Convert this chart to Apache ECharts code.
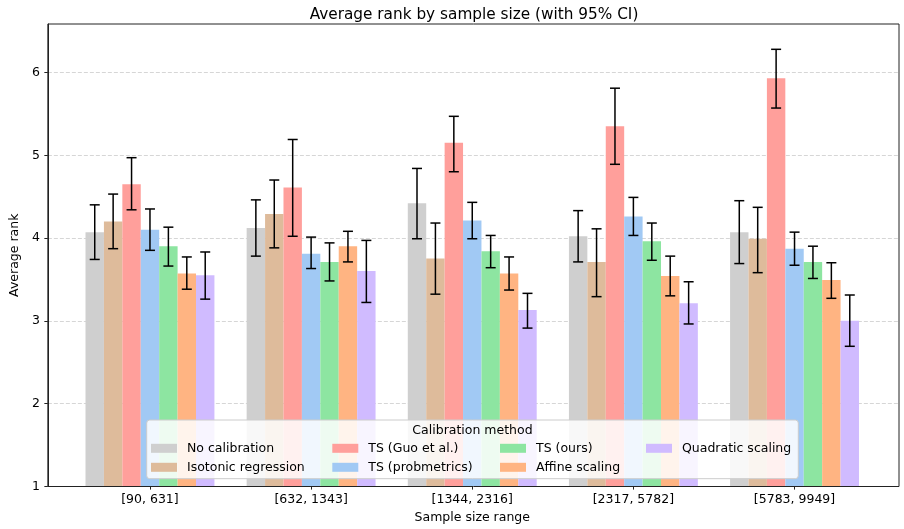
<!DOCTYPE html>
<html>
<head>
<meta charset="utf-8">
<script src="https://cdn.jsdelivr.net/npm/echarts@6/dist/echarts.min.js"></script>
<style>html,body{margin:0;padding:0;background:#fff}#c{width:904px;height:529px}</style>
</head>
<body>
<div id="c"></div>
<script>
const categories = ['[90, 631]', '[632, 1343]', '[1344, 2316]', '[2317, 5782]', '[5783, 9949]'];
const methods = ['No calibration', 'Isotonic regression', 'TS (Guo et al.)', 'TS (probmetrics)', 'TS (ours)', 'Affine scaling', 'Quadratic scaling'];
const colors = ['#cfcfcf', '#debb9b', '#ff9f9b', '#a1c9f4', '#8de5a1', '#ffb482', '#d0bbff'];

const noCalMean = [4.07, 4.12, 4.42, 4.02, 4.07];
const noCalLow  = [3.74, 3.78, 3.99, 3.71, 3.69];
const noCalHigh = [4.40, 4.46, 4.84, 4.33, 4.45];

const isoMean = [4.20, 4.29, 3.75, 3.71, 3.99];
const isoLow  = [3.87, 3.88, 3.32, 3.29, 3.58];
const isoHigh = [4.53, 4.70, 4.18, 4.11, 4.37];

const guoMean = [4.65, 4.61, 5.15, 5.35, 5.93];
const guoLow  = [4.34, 4.02, 4.80, 4.89, 5.57];
const guoHigh = [4.97, 5.19, 5.47, 5.81, 6.28];

const probMean = [4.10, 3.81, 4.21, 4.26, 3.87];
const probLow  = [3.85, 3.63, 3.99, 4.03, 3.67];
const probHigh = [4.35, 4.01, 4.43, 4.49, 4.07];

const oursMean = [3.90, 3.71, 3.84, 3.96, 3.71];
const oursLow  = [3.66, 3.48, 3.64, 3.73, 3.51];
const oursHigh = [4.13, 3.94, 4.03, 4.18, 3.90];

const affMean = [3.57, 3.90, 3.57, 3.54, 3.49];
const affLow  = [3.38, 3.71, 3.37, 3.30, 3.27];
const affHigh = [3.77, 4.08, 3.77, 3.78, 3.70];

const quadMean = [3.55, 3.60, 3.13, 3.21, 3.00];
const quadLow  = [3.26, 3.22, 2.91, 2.96, 2.69];
const quadHigh = [3.83, 3.97, 3.33, 3.47, 3.31];

const yTicks = [1, 2, 3, 4, 5, 6];

const means = [noCalMean, isoMean, guoMean, probMean, oursMean, affMean, quadMean];
const lows = [noCalLow, isoLow, guoLow, probLow, oursLow, affLow, quadLow];
const highs = [noCalHigh, isoHigh, guoHigh, probHigh, oursHigh, affHigh, quadHigh];

const FONT = 'DejaVu Sans';
const FS = 12.5;
const YMIN = 1, YMAX = 6.586;
const nM = methods.length;
const catGapFrac = 0.2;

const chart = echarts.init(document.getElementById('c'), null, {renderer: 'canvas'});

const series = [];
methods.forEach((m, k) => {
  series.push({
    name: m, type: 'bar', xAxisIndex: 1, yAxisIndex: 1,
    data: means[k], barGap: '0%', barCategoryGap: '20%',
    itemStyle: {color: colors[k]}, z: 2, silent: true
  });
});
methods.forEach((m, k) => {
  series.push({
    name: 'err' + k, type: 'custom', xAxisIndex: 1, yAxisIndex: 1, z: 5, silent: true,
    data: categories.map((c, i) => [i, lows[k][i], highs[k][i]]),
    encode: {x: 0, y: [1, 2]},
    renderItem: function (params, api) {
      const band = api.size([1, 0])[0];
      const bw = band * (1 - catGapFrac) / nM;
      const p1 = api.coord([api.value(0), api.value(1)]);
      const p2 = api.coord([api.value(0), api.value(2)]);
      const x = p1[0] + (k - (nM - 1) / 2) * bw;
      const cap = 5;
      const st = {stroke: '#000', lineWidth: 1.5};
      return {
        type: 'group',
        children: [
          {type: 'line', shape: {x1: x, y1: p1[1], x2: x, y2: p2[1]}, style: st},
          {type: 'line', shape: {x1: x - cap, y1: p1[1], x2: x + cap, y2: p1[1]}, style: st},
          {type: 'line', shape: {x1: x - cap, y1: p2[1], x2: x + cap, y2: p2[1]}, style: st}
        ]
      };
    }
  });
});

const legendCols = [[0, 1], [2, 3], [4, 5], [6]];
const legendLefts = [151, 332.3, 500, 646];
const legends = legendCols.map((col, j) => ({
  data: col.map(k => methods[k]),
  orient: 'vertical', left: legendLefts[j], top: 441.3, padding: 0,
  itemWidth: 26, itemHeight: 9, itemGap: 5, icon: 'rect', selectedMode: false, z: 20,
  textStyle: {fontFamily: FONT, fontSize: FS, color: '#000', lineHeight: 14, padding: [0, 0, 0, 5]}
}));

const option = {
  animation: false,
  backgroundColor: '#fff',
  color: colors,
  title: {
    text: 'Average rank by sample size (with 95% CI)', left: 469, textAlign: 'center', top: 3,
    textStyle: {fontFamily: FONT, fontSize: 15.3, fontWeight: 'normal', color: '#000'}
  },
  legend: legends,
  grid: [
    {left: 45, right: 5, top: 24, bottom: 42.5, show: true, borderColor: '#222', borderWidth: 1, backgroundColor: 'transparent', containLabel: false},
    {left: 69.4, right: 28.9, top: 24, bottom: 42.5, containLabel: false}
  ],
  xAxis: [
    {type: 'value', gridIndex: 0, min: 0, max: 1, show: false},
    {type: 'category', gridIndex: 1, data: categories, boundaryGap: true,
     axisLine: {show: false},
     axisTick: {show: true, alignWithLabel: true, length: 3.5, inside: false, lineStyle: {color: '#222', width: 1}},
     axisLabel: {fontFamily: FONT, fontSize: FS, color: '#000', margin: 7},
     name: 'Sample size range', nameLocation: 'middle', nameGap: 24,
     nameTextStyle: {fontFamily: FONT, fontSize: FS, color: '#000'}}
  ],
  yAxis: [
    {type: 'value', gridIndex: 0, min: YMIN, max: YMAX, interval: 1,
     axisLine: {show: true, lineStyle: {color: '#222', width: 1}},
     axisTick: {show: true, length: 3.5, customValues: yTicks, lineStyle: {color: '#222', width: 1}},
     axisLabel: {fontFamily: FONT, fontSize: FS, color: '#000', margin: 8, customValues: yTicks},
     splitLine: {show: true, showMinLine: false, lineStyle: {color: '#cccccc', width: 0.8, type: [4, 2]}},
     name: 'Average rank', nameLocation: 'middle', nameGap: 24, nameRotate: 90,
     nameTextStyle: {fontFamily: FONT, fontSize: FS, color: '#000'}},
    {type: 'value', gridIndex: 1, min: YMIN, max: YMAX, interval: 1, show: false, splitLine: {show: false}}
  ],
  graphic: [
    {type: 'rect', shape: {x: 146.7, y: 420, width: 651.6, height: 58.7, r: 3}, z: 10,
     style: {fill: 'rgba(255,255,255,0.85)', stroke: '#cccccc', lineWidth: 1}},
    {type: 'text', x: 472.5, y: 430.7, z: 11,
     style: {text: 'Calibration method', fontFamily: FONT, fontSize: FS, fill: '#000', align: 'center', verticalAlign: 'middle'}}
  ],
  series: series
};
chart.setOption(option);
</script>
</body>
</html>
